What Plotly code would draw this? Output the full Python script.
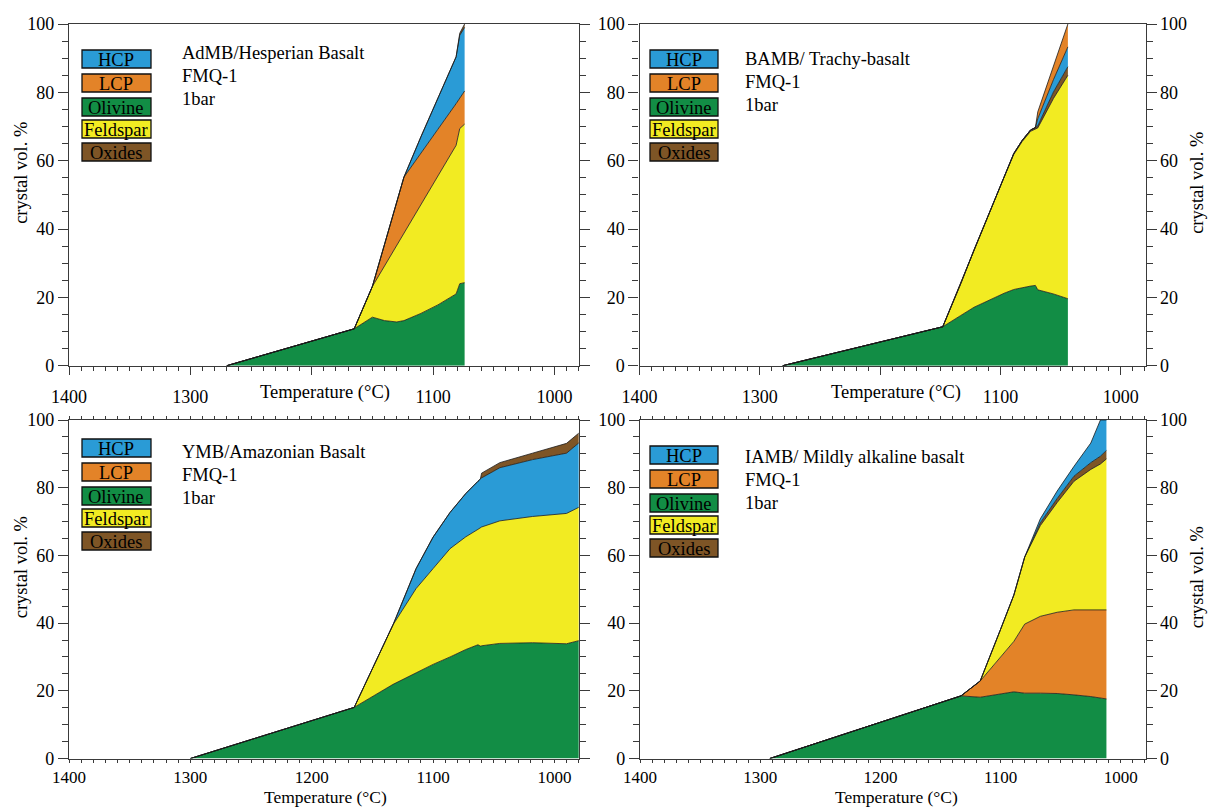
import plotly.graph_objects as go

W, H = 1209, 808
FONT = "Liberation Serif, Times New Roman, serif"

COLORS = {
    "HCP": "#2a9bd6",
    "LCP": "#e38328",
    "Olivine": "#128d45",
    "Feldspar": "#f2eb22",
    "Oxides": "#7e5526",
}
LEGEND_ORDER = ["HCP", "LCP", "Olivine", "Feldspar", "Oxides"]

# ---- AdMB / Hesperian basalt (crystal vol. % of each phase) ----
admb_temp = [1270, 1165, 1150, 1140, 1130, 1124, 1110, 1096, 1081, 1078, 1074]
admb_olivine = [0, 10.8, 14.2, 13.2, 12.8, 13.2, 15.3, 17.8, 21.0, 24.0, 24.3]
admb_feldspar = [0, 0, 9.0, 16.0, 22.4, 25.6, 31.9, 37.8, 43.5, 45.4, 46.4]
admb_lcp = [0, 0, 0, 6.3, 12.6, 16.4, 15.0, 13.6, 12.2, 8.8, 9.7]
admb_hcp = [0, 0, 0, 0, 0, 0, 4.8, 9.3, 13.7, 18.5, 18.6]
admb_oxides = [0, 0, 0, 0, 0, 0, 0, 0, 0, 0.6, 1.0]

# ---- BAMB / Trachy-basalt ----
bamb_temp = [1281, 1148, 1133, 1122, 1116, 1097, 1089, 1082, 1075, 1071, 1069, 1056, 1044]
bamb_olivine = [0, 11.4, 14.7, 17.1, 18.2, 21.2, 22.3, 22.9, 23.3, 23.5, 22.2, 21.0, 19.6]
bamb_feldspar = [0, 0, 9.3, 16.8, 20.9, 34.0, 39.5, 42.7, 45.3, 45.7, 47.4, 57.2, 65.4]
bamb_oxides = [0, 0, 0, 0, 0, 0, 0.3, 0.35, 0.4, 0.5, 0.6, 1.9, 2.5]
bamb_hcp = [0, 0, 0, 0, 0, 0, 0, 0, 0, 0, 2.1, 3.6, 5.8]
bamb_lcp = [0, 0, 0, 0, 0, 0, 0, 0, 0, 0, 2.0, 3.8, 6.7]

# ---- YMB / Amazonian basalt ----
ymb_temp = [1300, 1165, 1133, 1114, 1100, 1086, 1073, 1063, 1061, 1060, 1045, 1018, 990, 980]
ymb_olivine = [0, 15.1, 21.9, 25.3, 27.8, 30.0, 32.2, 33.6, 33.2, 33.3, 34.0, 34.2, 33.9, 34.8]
ymb_feldspar = [0, 0, 17.6, 24.9, 28.3, 32.0, 33.3, 34.1, 35.0, 35.1, 36.2, 37.3, 38.5, 39.4]
ymb_hcp = [0, 0, 0, 5.9, 9.3, 10.7, 12.8, 14.2, 14.4, 14.5, 15.7, 16.8, 17.8, 19.0]
ymb_oxides = [0, 0, 0, 0, 0, 0, 0, 0, 0, 1.4, 1.5, 1.9, 2.9, 2.9]

# ---- IAMB / Mildly alkaline basalt ----
iamb_temp = [1292, 1133, 1117, 1100, 1089, 1080, 1067, 1053, 1039, 1025, 1017, 1012]
iamb_olivine = [0, 18.5, 18.1, 19.1, 19.7, 19.3, 19.3, 19.2, 18.8, 18.3, 17.9, 17.6]
iamb_lcp = [0, 0, 4.8, 10.9, 14.9, 20.4, 22.7, 24.0, 25.1, 25.6, 26.0, 26.3]
iamb_feldspar = [0, 0, 0, 8.2, 13.7, 19.8, 26.8, 32.4, 38.0, 41.5, 43.1, 44.6]
iamb_oxides = [0, 0, 0, 0, 0, 0, 0.8, 1.2, 1.5, 2.0, 2.3, 2.5]
iamb_hcp = [0, 0, 0, 0, 0, 0, 1.2, 2.2, 2.9, 5.8, 10.7, 9.0]

x_tick_vals = [1400, 1300, 1200, 1100, 1000]
y_tick_vals = [0, 20, 40, 60, 80, 100]

panels = [
    dict(name="AdMB/Hesperian Basalt", temp=admb_temp,
         stack=[("Olivine", admb_olivine), ("Feldspar", admb_feldspar), ("LCP", admb_lcp),
                ("HCP", admb_hcp), ("Oxides", admb_oxides)],
         box=(69, 579.3, 24, 365.7), top=True, right=False,
         legend=(82, 151, 59), text=(180, 53)),
    dict(name="BAMB/ Trachy-basalt", temp=bamb_temp,
         stack=[("Olivine", bamb_olivine), ("Feldspar", bamb_feldspar), ("Oxides", bamb_oxides),
                ("HCP", bamb_hcp), ("LCP", bamb_lcp)],
         box=(639.5, 1145.5, 24, 365.7), top=True, right=True,
         legend=(650, 718, 59), text=(743, 59)),
    dict(name="YMB/Amazonian Basalt", temp=ymb_temp,
         stack=[("Olivine", ymb_olivine), ("Feldspar", ymb_feldspar), ("HCP", ymb_hcp),
                ("Oxides", ymb_oxides)],
         box=(69, 579.3, 420, 758.5), top=False, right=False,
         legend=(82, 151, 448), text=(180, 452)),
    dict(name="IAMB/ Mildly alkaline basalt", temp=iamb_temp,
         stack=[("Olivine", iamb_olivine), ("LCP", iamb_lcp), ("Feldspar", iamb_feldspar),
                ("Oxides", iamb_oxides), ("HCP", iamb_hcp)],
         box=(640, 1145.5, 420, 758.5), top=False, right=True,
         legend=(650, 718, 455), text=(743, 457)),
]


def fx(px):
    return px / W


def fy(py):
    return 1 - py / H


fig = go.Figure()
layout = dict(
    width=W, height=H,
    margin=dict(l=0, r=0, t=0, b=0, autoexpand=False),
    paper_bgcolor="white", plot_bgcolor="white",
    showlegend=False,
    font=dict(family=FONT, size=18, color="black"),
    shapes=[], annotations=[],
)

AXIS_COLOR = "#3a3a3a"

for i, p in enumerate(panels, start=1):
    xname = "x" if i == 1 else f"x{i}"
    yname = "y" if i == 1 else f"y{i}"
    x0, x1, y0, y1 = p["box"]

    for phase, vals in p["stack"]:
        fig.add_trace(go.Scatter(
            x=p["temp"], y=vals, name=phase,
            xaxis=xname, yaxis=yname,
            stackgroup=f"panel{i}", mode="lines",
            line=dict(color="#1c1c1c", width=0.8),
            fillcolor=COLORS[phase],
            hoverinfo="skip",
        ))

    xa = dict(
        domain=[fx(x0), fx(x1)], anchor=yname, automargin=False,
        range=[1400, 979.5],
        tickmode="array", tickvals=x_tick_vals,
        ticktext=[("" if (p["top"] and v == 1200) else str(v)) for v in x_tick_vals],
        ticks="outside", ticklen=8 if p["top"] else 3, tickwidth=1, tickcolor=AXIS_COLOR,
        minor=dict(dtick=10, tick0=1400, ticks="outside", ticklen=4 if p["top"] else 3,
                   tickcolor=AXIS_COLOR),
        showline=True, linecolor=AXIS_COLOR, linewidth=1.2,
        mirror=True if p["top"] else "ticks",
        showgrid=False, zeroline=False,
        tickfont=dict(family=FONT, size=18 if p["top"] else 17, color="black"),
        ticklabelstandoff=7 if p["top"] else 0,
    )
    ya = dict(
        domain=[fy(y1), fy(y0)], anchor=xname, automargin=False,
        range=[0, 100],
        tickmode="array", tickvals=y_tick_vals,
        ticks="outside", ticklen=10, tickwidth=1, tickcolor=AXIS_COLOR,
        minor=dict(dtick=5, tick0=0, ticks="outside", ticklen=6, tickcolor=AXIS_COLOR),
        showline=True, linecolor=AXIS_COLOR, linewidth=1.2,
        mirror=True if p["right"] else "ticks",
        showgrid=False, zeroline=False,
        tickfont=dict(family=FONT, size=18, color="black"),
    )
    layout["xaxis" if i == 1 else f"xaxis{i}"] = xa
    layout["yaxis" if i == 1 else f"yaxis{i}"] = ya

    if p["right"]:
        j = i + 4
        layout[f"yaxis{j}"] = dict(
            overlaying=yname, anchor=xname, side="right", automargin=False,
            range=[0, 100], tickmode="array", tickvals=y_tick_vals,
            ticks="outside", ticklen=10, tickwidth=1, tickcolor=AXIS_COLOR,
            minor=dict(dtick=5, tick0=0, ticks="outside", ticklen=6, tickcolor=AXIS_COLOR),
            showline=False, showgrid=False, zeroline=False,
            tickfont=dict(family=FONT, size=18, color="black"),
        )
        fig.add_trace(go.Scatter(x=[None], y=[None], xaxis=xname, yaxis=f"y{j}",
                                 showlegend=False, hoverinfo="skip"))
        layout["annotations"].append(dict(
            text="crystal vol. %", xref="paper", yref="paper",
            x=fx(1197), y=fy((y0 + y1) / 2 - 12), textangle=-90,
            showarrow=False, xanchor="center", yanchor="middle",
            font=dict(family=FONT, size=18.5, color="black")))
    else:
        layout["annotations"].append(dict(
            text="crystal vol. %", xref="paper", yref="paper",
            x=fx(21), y=fy((y0 + y1) / 2 - 22), textangle=-90,
            showarrow=False, xanchor="center", yanchor="middle",
            font=dict(family=FONT, size=18.5, color="black")))

    # temperature axis title
    if p["top"]:
        title_kw = dict(y=fy(y1 + 27), yanchor="middle", font_size=18.5)
    else:
        title_kw = dict(y=fy(807.8), yanchor="bottom", font_size=17.5)
    layout["annotations"].append(dict(
        text="Temperature (°C)", xref="paper", yref="paper",
        x=fx(x0 + 256), y=title_kw["y"], showarrow=False, borderpad=0,
        xanchor="center", yanchor=title_kw["yanchor"],
        font=dict(family=FONT, size=title_kw["font_size"], color="black")))

    # phase key boxes
    lx0, lx1, ly = p["legend"]
    step = [0, 24, 48, 70, 93]
    for k, phase in enumerate(LEGEND_ORDER):
        cy = ly + step[k]
        layout["shapes"].append(dict(
            type="rect", xref="paper", yref="paper",
            x0=fx(lx0), x1=fx(lx1), y0=fy(cy + 9), y1=fy(cy - 9),
            fillcolor=COLORS[phase], line=dict(color="#111111", width=1.3)))
        layout["annotations"].append(dict(
            text=phase, xref="paper", yref="paper",
            x=fx((lx0 + lx1) / 2), y=fy(cy + 1), showarrow=False,
            xanchor="center", yanchor="middle",
            font=dict(family=FONT, size=18.5, color="black")))

    # sample description
    tx, ty = p["text"]
    for k, line in enumerate([p["name"], "FMQ-1", "1bar"]):
        layout["annotations"].append(dict(
            text=line, xref="paper", yref="paper",
            x=fx(tx), y=fy(ty + 23 * k), showarrow=False,
            xanchor="left", yanchor="middle",
            font=dict(family=FONT, size=18.5, color="black")))

fig.update_layout(**layout)
fig.write_html("out.html")
